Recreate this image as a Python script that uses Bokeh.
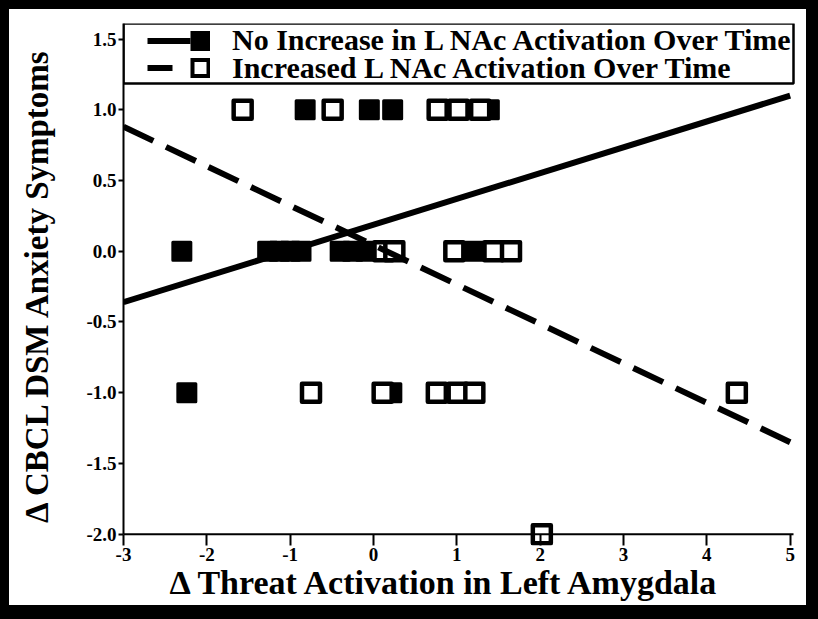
import numpy as np
from bokeh.plotting import figure
from bokeh.models import (Range1d, FixedTicker, Legend, LegendItem, Title)
from bokeh.layouts import column
from bokeh.embed import file_html
from bokeh.resources import INLINE

# ---------------- data ----------------
no_inc_x = [-0.82, -0.05, 0.23, 1.39,
            -2.30, -1.27, -1.13, -1.00, -0.87, -0.40, -0.25, -0.09, 1.21,
            -2.24, 0.22]
no_inc_y = [1.0, 1.0, 1.0, 1.0,
            0.0, 0.0, 0.0, 0.0, 0.0, 0.0, 0.0, 0.0, 0.0,
            -1.0, -1.0]
inc_x = [-1.57, -0.49, 0.77, 1.02, 1.28,
         0.12, 0.25, 0.97, 1.44, 1.65,
         -0.75, 0.11, 0.76, 1.01, 1.21, 4.36,
         2.02]
inc_y = [1.0, 1.0, 1.0, 1.0, 1.0,
         0.0, 0.0, 0.0, 0.0, 0.0,
         -1.0, -1.0, -1.0, -1.0, -1.0, -1.0,
         -2.0]
fit_x = [-3.0, 5.0]
no_inc_fit_y = [-0.36, 1.10]
inc_fit_y = [0.88, -1.35]

x_ticks = [-3, -2, -1, 0, 1, 2, 3, 4, 5]
x_tick_labels = ["-3", "-2", "-1", "0", "1", "2", "3", "4", "5"]
y_ticks = [-2.0, -1.5, -1.0, -0.5, 0.0, 0.5, 1.0, 1.5]
y_tick_labels = ["-2.0", "-1.5", "-1.0", "-0.5", "0.0", "0.5", "1.0", "1.5"]

label_no_inc = "No Increase in L NAc Activation Over Time"
label_inc = "Increased L NAc Activation Over Time"
x_title = "\u0394 Threat Activation in Left Amygdala"
y_title = "\u0394 CBCL DSM Anxiety Symptoms"

FONT = "Liberation Serif"
X_MIN, X_AXIS_END, X_VIEW_MAX = -3.0, 5.04, 5.196
Y_MIN, Y_AXIS_MIN, Y_MAX = -2.08, -2.0, 1.61
LEGEND_BOX_BOTTOM = 1.185

# ---------------- figure ----------------
P_W, P_H = 797, 596
B_L, B_R, B_T, B_B = 114, 0, 14, 60
FRAME_H = P_H - B_T - B_B

p = figure(width=P_W, height=P_H,
           x_range=Range1d(X_MIN, X_VIEW_MAX), y_range=Range1d(Y_MIN, Y_MAX),
           output_backend="svg", toolbar_location=None,
           min_border_left=B_L, min_border_right=B_R,
           min_border_top=B_T, min_border_bottom=B_B)
p.background_fill_color = None
p.border_fill_color = None
p.outline_line_color = None
p.outline_line_alpha = 0
p.xgrid.visible = False
p.ygrid.visible = False

# markers
p.scatter(no_inc_x, no_inc_y, marker="square", size=18,
          fill_color="black", line_color="black", line_width=3, line_join="round")
p.scatter(inc_x, inc_y, marker="square", size=18,
          fill_color="white", line_color="black", line_width=4.5, line_join="round")

# fit lines
p.line(fit_x, no_inc_fit_y, line_color="black", line_width=6)
p.line(fit_x, inc_fit_y, line_color="black", line_width=6, line_dash="33 14")

# x axis line at y = -2.0
p.segment(x0=[X_MIN], y0=[Y_AXIS_MIN], x1=[X_AXIS_END], y1=[Y_AXIS_MIN],
          line_color="black", line_width=2)

# legend box (drawn as a plain glyph)
p.quad(left=[X_MIN], right=[X_AXIS_END], top=[Y_MAX], bottom=[LEGEND_BOX_BOTTOM],
       fill_color="white", fill_alpha=1.0, line_color="black", line_width=2.5)

# legend-only glyphs (no visible data)
nan = [np.nan]
leg_solid = p.line(x=nan, y=nan, line_color="black", line_width=6, line_dash="0 24 43 900")
leg_fill = p.line(x=nan, y=nan, line_color="black", line_width=20, line_dash="0 67 20 900")
leg_dash = p.line(x=nan, y=nan, line_color="black", line_width=6, line_dash="0 24 25 900")
leg_open_o = p.line(x=nan, y=nan, line_color="black", line_width=20, line_dash="0 67 20 900")
leg_open_i = p.line(x=nan, y=nan, line_color="white", line_width=12, line_dash="0 71 12 900")

ROW_H = 33
legend_style = dict(margin=0, padding=0, spacing=0,
                    glyph_width=87, glyph_height=ROW_H, label_height=28,
                    label_standoff=22,
                    label_text_font=FONT, label_text_font_style="bold",
                    label_text_font_size="30px", label_text_color="black",
                    border_line_color=None, background_fill_alpha=0.0)
legend_a = Legend(items=[LegendItem(label=label_no_inc, renderers=[leg_solid, leg_fill])],
                  location="top_left", **legend_style)
legend_b = Legend(items=[LegendItem(label=label_inc,
                                    renderers=[leg_dash, leg_open_o, leg_open_i])],
                  location=(0, FRAME_H - 28.5 - ROW_H), **legend_style)
p.add_layout(legend_a)
p.add_layout(legend_b)

# axes
xa = p.xaxis[0]
ya = p.yaxis[0]
ya.bounds = (Y_AXIS_MIN, Y_MAX)
xa.ticker = FixedTicker(ticks=x_ticks)
ya.ticker = FixedTicker(ticks=y_ticks)
xa.major_label_overrides = {t: s for t, s in zip(x_ticks, x_tick_labels)}
ya.major_label_overrides = {t: s for t, s in zip(y_ticks, y_tick_labels)}
for ax in (xa, ya):
    ax.axis_line_color = "black"
    ax.axis_line_width = 2
    ax.major_tick_line_color = "black"
    ax.major_tick_line_width = 2
    ax.minor_tick_line_color = None
    ax.major_label_text_font = FONT
    ax.major_label_text_font_style = "bold"
    ax.major_label_text_font_size = "19px"
    ax.major_label_text_color = "black"
xa.axis_line_color = None
xa.major_tick_in = 11
xa.major_tick_out = 0
ya.major_tick_in = 0
ya.major_tick_out = 5
xa.major_label_standoff = 2
ya.major_label_standoff = 2

# y title as axis label, x title as a left-offset title below the axis
ya.axis_label = y_title
ya.axis_label_text_font = FONT
ya.axis_label_text_font_style = "bold"
ya.axis_label_text_font_size = "33px"
ya.axis_label_text_color = "black"
ya.axis_label_standoff = 28
p.add_layout(Title(text=x_title, align="left", offset=46, vertical_align="top",
                   standoff=0, text_font=FONT, text_font_style="bold",
                   text_font_size="34px", text_color="black"), "below")

inner = column(p, styles={"background-color": "white"})
layout = column(inner, styles={"background-color": "black",
                               "padding": "9px 12px 14px 9px"})

open("out.html", "w").write(file_html(layout, INLINE))
